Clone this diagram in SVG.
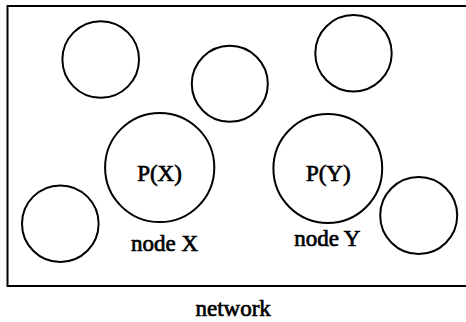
<svg xmlns="http://www.w3.org/2000/svg" width="466" height="322" viewBox="0 0 466 322">
  <style>
    .node circle { fill: none; stroke: #000; stroke-width: 2; }
    .frame { fill: none; stroke: #000; stroke-width: 2; }
    text { font-family: "Liberation Serif", "Times New Roman", serif; font-size: 23px; fill: #000; text-anchor: middle; stroke: #000; stroke-width: 0.7; }
  </style>
  <rect width="466" height="322" fill="#fff"/>

  <!-- network boundary, open on the right -->
  <path class="frame" d="M466,6 H7.5 V286 H466"/>

  <g id="node-a" class="node"><circle cx="100.7" cy="59.5" r="38.3"/></g>
  <g id="node-b" class="node"><circle cx="229.8" cy="83.8" r="38"/></g>
  <g id="node-c" class="node"><circle cx="353.5" cy="53.3" r="38.2"/></g>
  <g id="node-x" class="node">
    <circle cx="159.7" cy="167.5" r="54.6"/>
    <text x="159.5" y="181">P(X)</text>
    <text x="164.5" y="250.5">node X</text>
  </g>
  <g id="node-y" class="node">
    <circle cx="327.8" cy="168.5" r="54.4"/>
    <text x="328.3" y="181">P(Y)</text>
    <text x="327.3" y="245.5">node Y</text>
  </g>
  <g id="node-d" class="node"><circle cx="60.3" cy="223.7" r="38.3"/></g>
  <g id="node-e" class="node"><circle cx="418.7" cy="215.5" r="38.5"/></g>

  <g id="connectors"></g>

  <text x="233.2" y="315.5">network</text>
</svg>
